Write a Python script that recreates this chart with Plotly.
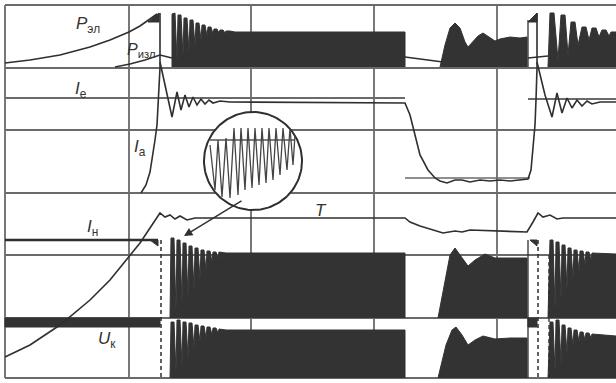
import math
import plotly.graph_objects as go

# ---------------- data (t = time axis units, v = trace level units) ----------------
# P_эл charging curve (top row)
p_el_t = [5, 30, 60, 90, 110, 129, 140, 150, 157]
p_el_v = [63, 60, 55, 47, 40, 32, 26, 19, 14]
# P_изл curve segments
p_izl_t = [115, 130, 145, 160, 172, None, 405, 443, None, 528, 548]
p_izl_v = [67, 64, 60, 55, 58, None, 57, 62, None, 58, 56]
# pulse envelope, top row, first burst
env1_t = [172, 172, 175, 177, 178, 181, 183, 184, 187, 189, 190, 193, 195, 196, 199, 201, 202, 205, 207, 208, 211, 213,
          214, 217, 219, 220, 223, 225, 226, 230, 235, 405, 405]
env1_v = [67, 14, 13, 60, 15, 15, 56, 18, 18, 52, 20, 20, 46, 23, 23, 40, 25, 25, 36, 27, 27, 34,
          29, 29, 33, 30, 30, 33, 31, 31, 32, 32, 67]
# top row, second burst
env2_t = [440, 445, 450, 455, 460, 465, 468, 473, 478, 483, 488, 495, 500, 510, 520, 527, 527]
env2_v = [67, 45, 28, 23, 28, 42, 47, 42, 36, 33, 36, 41, 39, 37, 38, 37, 67]
# top row, third burst
env3_t = [548, 550, 554, 558, 561, 565, 568, 571, 575, 578, 582, 586, 589, 592, 596, 599, 602, 606, 609, 611, 616, 616]
env3_v = [67, 13, 13, 60, 15, 15, 55, 22, 22, 45, 27, 27, 40, 28, 28, 37, 30, 30, 36, 32, 32, 67]
# lower rows, first burst
envA1_t = [170, 171, 174, 176, 177, 180, 182, 183, 186, 188, 189, 192, 194, 195, 198, 200, 201, 204, 206, 207, 210,
           212, 213, 216, 218, 219, 226, 240, 405, 405]
envA1_v = [318, 238, 238, 312, 240, 240, 305, 243, 243, 298, 246, 246, 290, 248, 248, 280, 250, 250, 270, 251, 251,
           262, 252, 252, 258, 252, 253, 253, 253, 318]
envA2_t = [170, 171, 174, 176, 177, 180, 182, 183, 186, 188, 189, 192, 194, 195, 198, 200, 201, 204, 206, 207, 210,
           212, 213, 216, 218, 219, 226, 240, 405, 405]
envA2_v = [378, 322, 322, 372, 320, 320, 366, 322, 322, 358, 323, 323, 348, 325, 325, 342, 326, 326, 338, 327, 327,
           335, 328, 328, 333, 329, 330, 330, 330, 378]
# lower rows, second burst
envB1_t = [438, 450, 455, 462, 468, 475, 485, 495, 510, 527, 527]
envB1_v = [318, 255, 248, 258, 266, 260, 254, 258, 258, 258, 318]
envB2_t = [438, 446, 452, 456, 462, 468, 475, 483, 495, 510, 527, 527]
envB2_v = [378, 345, 330, 327, 335, 345, 340, 336, 339, 338, 338, 378]
# lower rows, third burst
envC1_t = [548, 550, 553, 555, 556, 559, 561, 562, 565, 567, 568, 571, 573, 574, 577, 579, 580, 583, 585, 586, 589,
           591, 592, 616, 616]
envC1_v = [318, 240, 240, 310, 242, 242, 300, 245, 245, 290, 248, 248, 280, 250, 250, 272, 251, 251, 265, 252, 252,
           260, 253, 254, 318]
envC2_t = [548, 550, 553, 555, 556, 559, 561, 562, 565, 567, 568, 571, 573, 574, 577, 579, 580, 583, 585, 586, 589,
           591, 592, 616, 616]
envC2_v = [378, 322, 322, 372, 320, 320, 364, 325, 325, 354, 328, 328, 346, 330, 330, 342, 332, 332, 340, 333, 333,
           338, 334, 336, 378]
# I_a rise (left)
ia_t = [141, 146, 150, 153, 155, 157, 158, 159, 160, 160]
ia_v = [193, 185, 172, 155, 140, 125, 100, 80, 68, 13]
# I_e / I_a main trace
ie_t = [160, 166, 172, 177, 181, 185, 189, 193, 197, 201, 205, 209, 213, 220, 230, 405, 410, 415, 420,
        428, 435, 440, 447, 455, 462, 470, 480, 490, 500, 510, 520, 528, 531, 533, 535, 536, 537, 537]
ie_v = [62, 90, 117, 92, 110, 95, 107, 97, 105, 99, 104, 100, 103, 101, 102, 103, 115, 135, 155,
        170, 178, 181, 183, 180, 180, 182, 180, 181, 180, 181, 180, 179, 170, 150, 125, 100, 68, 13]
# I_e oscillation (right)
ie2_t = [537, 545, 552, 557, 562, 567, 572, 577, 582, 587, 592, 600, 616]
ie2_v = [62, 95, 117, 93, 113, 98, 108, 100, 106, 101, 104, 102, 102]
# I_н trace (with U_к charging part)
in_t = [5, 30, 60, 90, 110, 129, 140, 150, 158, 160, 165, 170, 175, 180, 187, 195, 405, 410, 420, 443,
        455, 462, 470, 520, 527, 533, 538, 543, 550, 557, 563, 616]
in_v = [357, 345, 325, 300, 280, 257, 243, 228, 215, 213, 217, 215, 219, 216, 220, 218, 218, 222, 226, 233,
        231, 232, 230, 232, 232, 222, 213, 217, 215, 219, 218, 218]
# magnified sawtooth
zz_t = [210, 215, 218, 222, 226, 230, 234, 238, 241, 245, 248, 252, 255, 259, 262, 266, 269, 273, 276, 280, 283, 287, 290, 293, 295]
zz_v = [145, 190, 140, 197, 138, 198, 128, 195, 128, 190, 128, 188, 128, 185, 128, 183, 128, 180, 128, 175, 128, 170, 128, 165, 135]

# grid
grid_h = [5, 68, 130, 193, 255, 318, 378]
grid_v = [5, 129, 251, 374, 497]

INK = "#2f2f2f"
GRID = "#6a6a6a"

fig = go.Figure()

def line(t, v, w=1.6, color=INK, dash=None):
    fig.add_trace(go.Scatter(x=t, y=v, mode="lines", line=dict(color=color, width=w, dash=dash),
                             hoverinfo="skip", showlegend=False))

def fill(t, v):
    fig.add_trace(go.Scatter(x=t, y=v, mode="lines", fill="toself", fillcolor="#333333",
                             line=dict(color="#333333", width=1.0), hoverinfo="skip", showlegend=False))

shapes = []
for y in grid_h:
    shapes.append(dict(type="line", x0=5, x1=616, y0=y, y1=y, line=dict(color=GRID, width=1.8), layer="below"))
for x in grid_v:
    shapes.append(dict(type="line", x0=x, x1=x, y0=5, y1=378, line=dict(color=GRID, width=1.8), layer="below"))
for (x0, x1, y) in [(5, 405, 98), (528, 616, 99)]:
    shapes.append(dict(type="line", x0=x0, x1=x1, y0=y, y1=y, line=dict(color=GRID, width=1.8), layer="below"))
shapes.append(dict(type="line", x0=405, x1=530, y0=178, y1=178, line=dict(color=GRID, width=1.5), layer="below"))
shapes.append(dict(type="line", x0=5, x1=158, y0=240, y1=240, line=dict(color=INK, width=2.6), layer="below"))

for e in [(env1_t, env1_v), (env2_t, env2_v), (env3_t, env3_v), (envA1_t, envA1_v), (envA2_t, envA2_v),
          (envB1_t, envB1_v), (envB2_t, envB2_v), (envC1_t, envC1_v), (envC2_t, envC2_v)]:
    fill(*e)

# black bar and small square
fill([5, 160, 160, 5, 5], [318, 318, 327, 327, 318])
fill([528, 537, 537, 528, 528], [318, 318, 327, 327, 318])
# flags
fill([148, 159, 159, 148], [22, 13, 22, 22])
fill([528, 537, 537, 528], [22, 13, 22, 22])
fill([150, 158, 158, 150], [240, 240, 246, 240])
fill([530, 537, 537, 530], [240, 240, 246, 240])

line(p_el_t, p_el_v)
line(p_izl_t, p_izl_v, w=1.4)
line(ia_t, ia_v)
line(ie_t, ie_v)
line(ie2_t, ie2_v)
line(in_t, in_v)
line([528, 528], [20, 67], w=1.3)
line([528, 528], [240, 378], w=1.3)
line([161, 161], [240, 378], w=1.5, dash="4px,3px")
line([538, 538], [240, 378], w=1.5, dash="4px,3px")
line([549, 549], [255, 378], w=1.3, dash="4px,3px")

# magnifier
cx, cy, r = 253, 161, 49
ang = [i * 2 * math.pi / 120 for i in range(121)]
fig.add_trace(go.Scatter(x=[cx + r * math.cos(a) for a in ang], y=[cy + r * math.sin(a) for a in ang],
                         mode="lines", fill="toself", fillcolor="white", line=dict(color=INK, width=2),
                         hoverinfo="skip", showlegend=False))
line([210, 295], [140, 140], w=1.3, color="#555555")
line(zz_t, zz_v, w=1.3, color="#444444")

ann = []
def label(x, y, text, size=17):
    ann.append(dict(x=x, y=y, text=text, showarrow=False, xref="x", yref="y",
                    font=dict(family="Liberation Sans, Arial", size=size, color="#333333")))

label(88, 25, "<i>P</i><sub>эл</sub>")
label(141, 50, "<i>P</i><sub>изл</sub>", size=16)
label(81, 90, "<i>I</i><sub>е</sub>")
label(140, 148, "<i>I</i><sub>а</sub>")
label(92, 228, "<i>I</i><sub>н</sub>")
label(107, 340, "<i>U</i><sub>к</sub>")
label(321, 210, "<i>T</i>")

ann.append(dict(x=184, y=236, ax=243, ay=200, xref="x", yref="y", axref="x", ayref="y", text="",
                showarrow=True, arrowhead=2, arrowsize=1.2, arrowwidth=1.4, arrowcolor=INK))

fig.update_layout(width=616, height=383, margin=dict(l=0, r=0, t=0, b=0),
                  paper_bgcolor="white", plot_bgcolor="white", shapes=shapes, annotations=ann,
                  xaxis=dict(range=[0, 616], visible=False, fixedrange=True),
                  yaxis=dict(range=[383, 0], visible=False, fixedrange=True))

fig.write_html("out.html", config=dict(displayModeBar=False),
               post_script="document.body.style.margin='0px';document.body.style.overflow='hidden';")
